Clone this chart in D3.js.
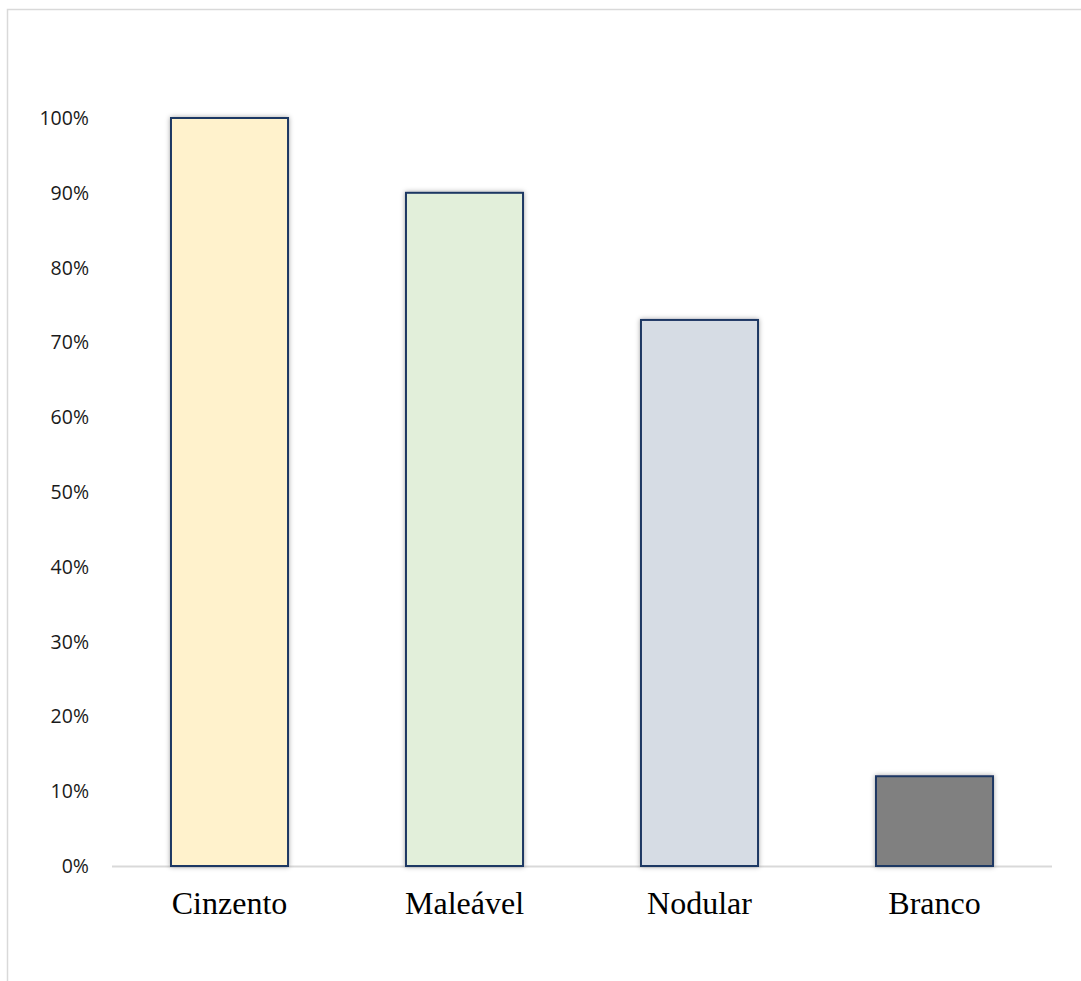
<!DOCTYPE html>
<html><head><meta charset="utf-8">
<script src="https://cdn.jsdelivr.net/npm/d3@7"></script>
<style>body{margin:0;background:#fff;}svg{display:block;}</style>
</head><body>
<svg id="c" width="1081" height="981"></svg>
<script>
const categories = ["Cinzento", "Maleável", "Nodular", "Branco"];
const values = [1.00, 0.90, 0.73, 0.12];
const colors = ["#FFF2CC", "#E2EFDA", "#D6DCE4", "#808080"];
const yTicks = [0, 0.1, 0.2, 0.3, 0.4, 0.5, 0.6, 0.7, 0.8, 0.9, 1.0];

const svg = d3.select("#c");
const defs = svg.append("defs");
const f = defs.append("filter").attr("id","sh").attr("x","-20%").attr("y","-20%").attr("width","140%").attr("height","140%");
f.append("feDropShadow").attr("dx",0).attr("dy",0).attr("stdDeviation",2.5).attr("flood-color","#000").attr("flood-opacity",0.35);

// chart border
svg.append("path").attr("d","M7.5,981 V9.5 H1081").attr("fill","none").attr("stroke","#d9d9d9").attr("stroke-width",1.5);

const x = d3.scaleBand().domain(categories).range([112, 1052]).paddingInner(0.502).paddingOuter(0.251);
const y = d3.scaleLinear().domain([0, 1]).range([866, 118]);

// y labels
svg.append("g").selectAll("text").data(yTicks).join("text")
  .attr("x", 89).attr("y", d => y(d)).attr("dy","0.36em")
  .attr("text-anchor","end").attr("font-family","'Open Sans', 'Liberation Sans', sans-serif")
  .attr("font-size", 19.5).attr("fill","#1a1a1a")
  .text(d => d3.format(".0%")(d));

// axis line
svg.append("line").attr("x1",112).attr("x2",1052).attr("y1",y(0)+0.5).attr("y2",y(0)+0.5)
  .attr("stroke","#d9d9d9").attr("stroke-width",2);

// bars
svg.append("g").selectAll("rect").data(values).join("rect")
  .attr("x",(d,i)=>x(categories[i])).attr("width",x.bandwidth())
  .attr("y",d=>y(d)).attr("height",d=>y(0)-y(d))
  .attr("fill",(d,i)=>colors[i]).attr("stroke","#1F3864").attr("stroke-width",2)
  .attr("filter","url(#sh)");

// x labels
svg.append("g").selectAll("text").data(categories).join("text")
  .attr("x", d => x(d) + x.bandwidth()/2).attr("y", 914)
  .attr("text-anchor","middle").attr("font-family","'Liberation Serif', 'Times New Roman', serif")
  .attr("font-size", 32).attr("fill","#000")
  .text(d => d);
</script>
</body></html>
